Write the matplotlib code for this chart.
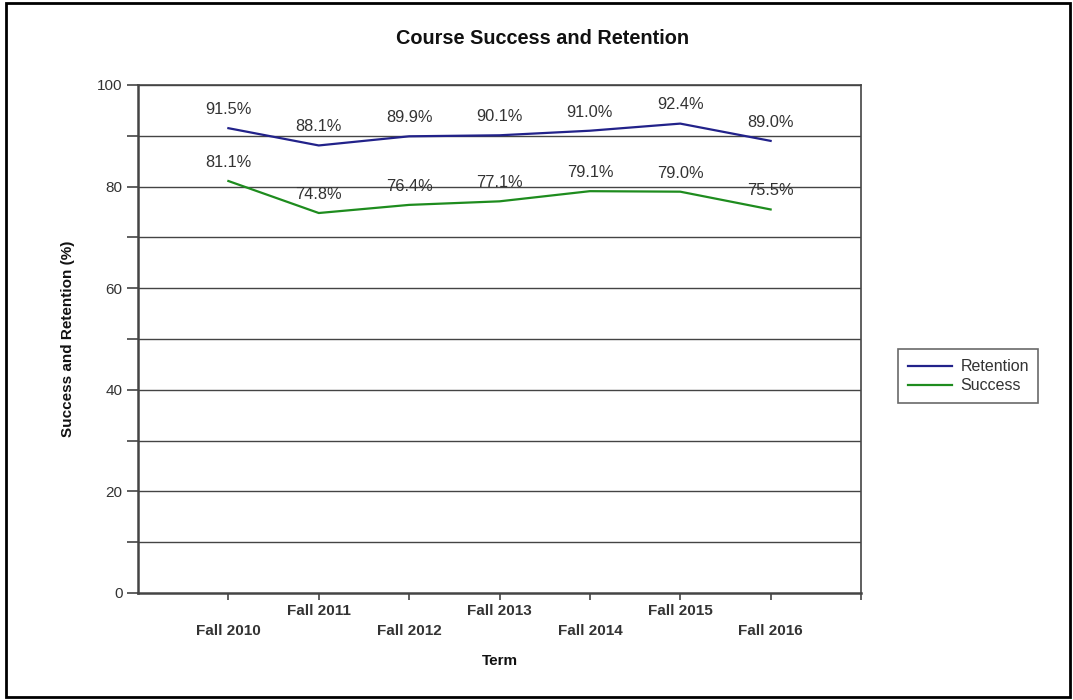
import numpy as np
import matplotlib.pyplot as plt
from matplotlib.patches import Rectangle

plt.rcParams['font.family'] = ['Liberation Sans', 'DejaVu Sans']

# donnees
terms = ['Fall 2010', 'Fall 2011', 'Fall 2012', 'Fall 2013', 'Fall 2014', 'Fall 2015', 'Fall 2016']
retention = [91.5, 88.1, 89.9, 90.1, 91.0, 92.4, 89.0]
success = [81.1, 74.8, 76.4, 77.1, 79.1, 79.0, 75.5]

x = np.arange(len(terms))

fig = plt.figure(figsize=(10.73, 7.0), dpi=100)
ax = fig.add_axes([138 / 1073, 1 - 593 / 700, (861 - 138) / 1073, (593 - 85) / 700])

grid_col = '#444444'
txt_col = '#333333'

# grille horizontale tous les 10
for yv in range(10, 101, 10):
    ax.axhline(yv, color=grid_col, linewidth=1.0, zorder=1)

ax.plot(x, retention, color='#22228a', linewidth=1.6, label='Retention', zorder=3)
ax.plot(x, success, color='#1e8c1e', linewidth=1.6, label='Success', zorder=3)

# etiquettes des valeurs
for xi, v in zip(x, retention):
    ax.annotate(f'{v:.1f}%', (xi, v), xytext=(0, 8), textcoords='offset points',
                ha='center', va='bottom', fontsize=11.8, color=txt_col)
for xi, v in zip(x, success):
    ax.annotate(f'{v:.1f}%', (xi, v), xytext=(0, 8), textcoords='offset points',
                ha='center', va='bottom', fontsize=11.8, color=txt_col)

ax.set_xlim(-1, 7)
ax.set_ylim(0, 100)

# axe y
ax.set_yticks(np.arange(0, 101, 10))
ax.set_yticklabels(['0', '', '20', '', '40', '', '60', '', '80', '', '100'])
ax.tick_params(axis='y', length=8, width=1.2, color=grid_col, labelsize=11, labelcolor=txt_col, pad=3)

# axe x : etiquettes en quinconce
ax.set_xticks(list(x) + [7])
ax.set_xticklabels(['\n' + t if i % 2 == 0 else t for i, t in enumerate(terms)] + [''])
ax.tick_params(axis='x', length=5, width=1.2, color=grid_col, labelsize=11, labelcolor=txt_col, pad=3)
for lbl in ax.get_xticklabels():
    lbl.set_fontweight('bold')
    lbl.set_linespacing(1.5)

for s in ['left', 'bottom']:
    ax.spines[s].set_color(grid_col)
    ax.spines[s].set_linewidth(1.8)
for s in ['top', 'right']:
    ax.spines[s].set_color(grid_col)
    ax.spines[s].set_linewidth(1.2)

ax.set_xlabel('Term', fontsize=11, fontweight='bold', color='#111111', labelpad=12)
ax.set_ylabel('Success and Retention (%)', fontsize=11, fontweight='bold', color='#111111', labelpad=16)

fig.text(543 / 1073, 1 - 38 / 700, 'Course Success and Retention', ha='center', va='center',
         fontsize=14.3, fontweight='bold', color='#111111')

leg = ax.legend(loc='center left', bbox_to_anchor=(898 / 1073, 1 - 376 / 700), bbox_transform=fig.transFigure,
                frameon=True, fancybox=False, fontsize=11.5, handlelength=2.8, borderpad=0.6,
                labelspacing=0.25, handletextpad=0.5, borderaxespad=0, handleheight=0.6)
leg.get_frame().set_edgecolor(grid_col)
leg.get_frame().set_linewidth(1.2)
for t in leg.get_texts():
    t.set_color(txt_col)

# cadre autour de l'image
fig.patches.append(Rectangle((6 / 1073, 3 / 700), 1064 / 1073, 694 / 700, transform=fig.transFigure,
                             fill=False, edgecolor='black', linewidth=2))

fig.savefig('out.png', dpi=100)
